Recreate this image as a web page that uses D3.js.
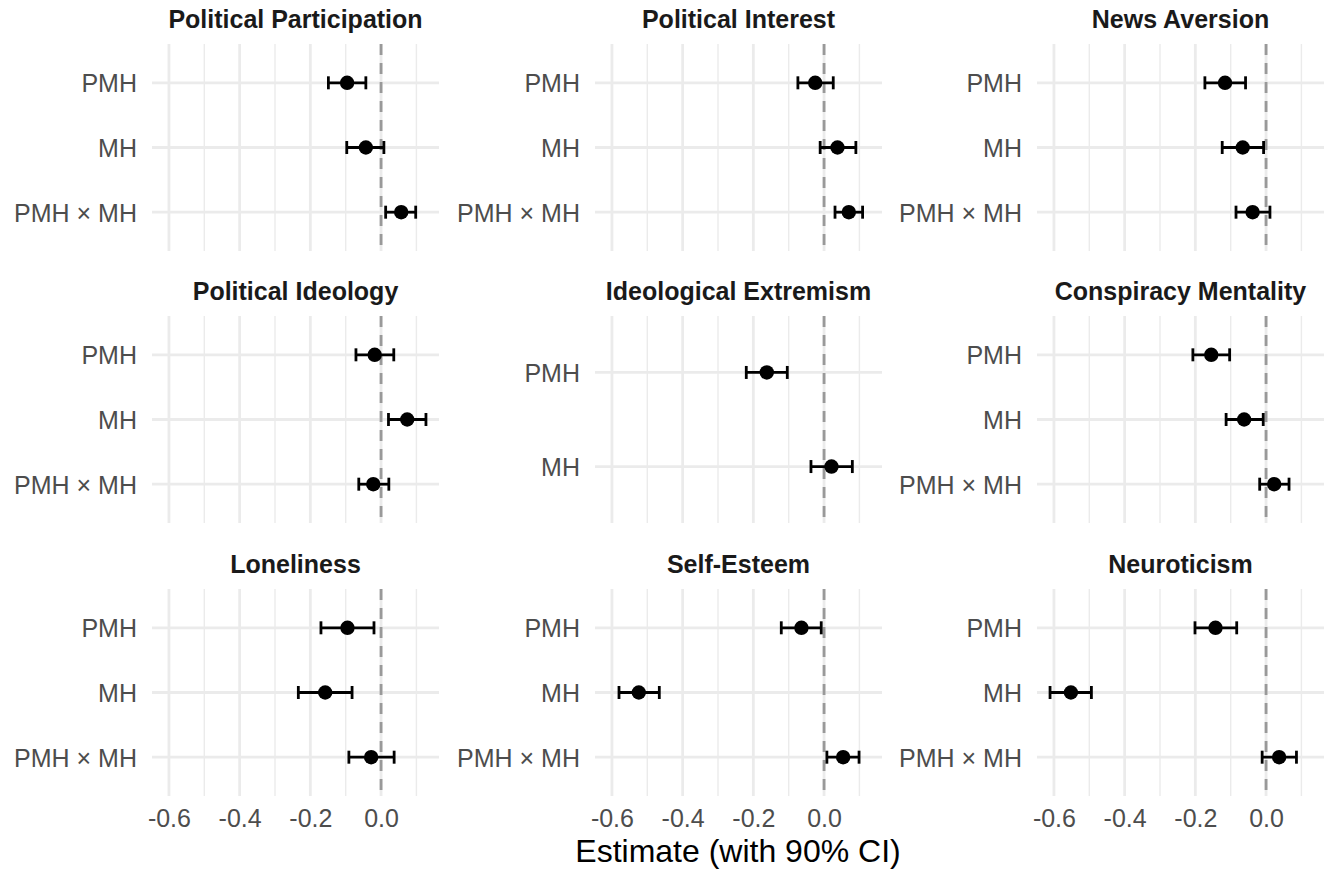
<!DOCTYPE html>
<html>
<head>
<meta charset="utf-8">
<script src="https://cdn.jsdelivr.net/npm/d3@7"></script>
<style>
  body { margin: 0; background: #fff; }
  svg { font-family: "Liberation Sans", Arial, Helvetica, sans-serif; }
</style>
</head>
<body>
<svg id="chart" width="1333" height="871"></svg>
<script>
// Facets (row by row) and model terms
var outcomes = ['Political Participation', 'Political Interest', 'News Aversion',
                'Political Ideology', 'Ideological Extremism', 'Conspiracy Mentality',
                'Loneliness', 'Self-Esteem', 'Neuroticism'];
var terms = ['PMH', 'MH', 'PMH × MH'];

// Point estimates per outcome, order of terms (null = term not in model)
var estimate = [
  [-0.096, -0.043,  0.057],
  [-0.025,  0.038,  0.070],
  [-0.116, -0.066, -0.038],
  [-0.018,  0.074, -0.022],
  [-0.162,  0.021,  null ],
  [-0.155, -0.062,  0.023],
  [-0.095, -0.158, -0.028],
  [-0.064, -0.524,  0.054],
  [-0.143, -0.552,  0.037]
];
// 90% CI bounds
var lower = [
  [-0.149, -0.097,  0.013],
  [-0.074, -0.011,  0.031],
  [-0.173, -0.124, -0.085],
  [-0.071,  0.021, -0.063],
  [-0.220, -0.037,  null ],
  [-0.207, -0.113, -0.018],
  [-0.170, -0.234, -0.091],
  [-0.121, -0.580,  0.008],
  [-0.201, -0.611, -0.011]
];
var upper = [
  [-0.043,  0.008,  0.098],
  [ 0.026,  0.090,  0.109],
  [-0.058, -0.007,  0.011],
  [ 0.036,  0.127,  0.022],
  [-0.104,  0.080,  null ],
  [-0.103, -0.008,  0.065],
  [-0.020, -0.082,  0.037],
  [-0.008, -0.466,  0.099],
  [-0.083, -0.494,  0.086]
];
var majorTicks = [-0.6, -0.4, -0.2, 0.0];
var minorTicks = [-0.5, -0.3, -0.1, 0.1];
var xTitle = 'Estimate (with 90% CI)';

// Layout
var panelW = 287, panelH = 207;
var panelLeft = [152, 595, 1037];
var panelTop = [44, 316, 589];

var svg = d3.select('#chart');

// Shared x scale (ggplot-like 5% expansion)
var allLo = d3.min(lower, function(r) { return d3.min(r); });
var allHi = d3.max(upper, function(r) { return d3.max(r); });
var pad = (allHi - allLo) * 0.05;
var xScale = d3.scaleLinear().domain([allLo - pad, allHi + pad]).range([0, panelW]);

outcomes.forEach(function(name, i) {
  var col = i % 3, row = Math.floor(i / 3);
  var g = svg.append('g')
      .attr('transform', 'translate(' + panelLeft[col] + ',' + panelTop[row] + ')');

  var rows = terms.map(function(t, j) {
    return {term: t, est: estimate[i][j], lo: lower[i][j], hi: upper[i][j]};
  }).filter(function(d) { return d.est !== null; });

  var yScale = d3.scalePoint()
      .domain(rows.map(function(d) { return d.term; }))
      .range([0, panelH])
      .padding(0.6);

  // Grid lines
  g.selectAll('.minor').data(minorTicks).enter().append('line')
      .attr('x1', function(d) { return xScale(d); })
      .attr('x2', function(d) { return xScale(d); })
      .attr('y1', 0).attr('y2', panelH)
      .attr('stroke', '#ebebeb').attr('stroke-width', 1.4);
  g.selectAll('.major').data(majorTicks).enter().append('line')
      .attr('x1', function(d) { return xScale(d); })
      .attr('x2', function(d) { return xScale(d); })
      .attr('y1', 0).attr('y2', panelH)
      .attr('stroke', '#ebebeb').attr('stroke-width', 2.8);
  g.selectAll('.hgrid').data(yScale.domain()).enter().append('line')
      .attr('x1', 0).attr('x2', panelW)
      .attr('y1', function(d) { return yScale(d); })
      .attr('y2', function(d) { return yScale(d); })
      .attr('stroke', '#ebebeb').attr('stroke-width', 2.8);

  // Reference line at zero
  g.append('line')
      .attr('x1', xScale(0)).attr('x2', xScale(0))
      .attr('y1', 0).attr('y2', panelH)
      .attr('stroke', '#999999').attr('stroke-width', 2.8)
      .attr('stroke-dasharray', '11,8');

  // Error bars
  var cap = 6.5;
  var bars = g.selectAll('.bar').data(rows).enter().append('g');
  bars.append('line')
      .attr('x1', function(d) { return xScale(d.lo); })
      .attr('x2', function(d) { return xScale(d.hi); })
      .attr('y1', function(d) { return yScale(d.term); })
      .attr('y2', function(d) { return yScale(d.term); });
  bars.append('line')
      .attr('x1', function(d) { return xScale(d.lo); })
      .attr('x2', function(d) { return xScale(d.lo); })
      .attr('y1', function(d) { return yScale(d.term) - cap; })
      .attr('y2', function(d) { return yScale(d.term) + cap; });
  bars.append('line')
      .attr('x1', function(d) { return xScale(d.hi); })
      .attr('x2', function(d) { return xScale(d.hi); })
      .attr('y1', function(d) { return yScale(d.term) - cap; })
      .attr('y2', function(d) { return yScale(d.term) + cap; });
  bars.selectAll('line').attr('stroke', '#000').attr('stroke-width', 2.8);
  bars.append('circle')
      .attr('cx', function(d) { return xScale(d.est); })
      .attr('cy', function(d) { return yScale(d.term); })
      .attr('r', 7.2)
      .attr('fill', '#000');

  // Y axis labels
  var yAxis = d3.axisLeft(yScale).tickSize(0).tickPadding(15);
  var ya = g.append('g').call(yAxis);
  ya.select('.domain').remove();
  ya.selectAll('text')
      .attr('fill', '#4d4d4d')
      .style('font-size', '25px')
      .attr('dy', '0.36em');

  // X axis only on bottom row
  if (row === 2) {
    var xAxis = d3.axisBottom(xScale).tickValues(majorTicks)
        .tickFormat(d3.format('.1f')).tickSize(0).tickPadding(13);
    var xa = g.append('g').attr('transform', 'translate(0,' + panelH + ')').call(xAxis);
    xa.select('.domain').remove();
    xa.selectAll('text')
        .attr('fill', '#4d4d4d')
        .style('font-size', '25px')
        .text(function(d) { return d3.format('.1f')(d).replace('−', '-'); });
  }

  // Strip title
  g.append('text')
      .attr('x', panelW / 2)
      .attr('y', -15.7)
      .attr('text-anchor', 'middle')
      .attr('fill', '#1a1a1a')
      .style('font-size', '25px')
      .style('font-weight', 'bold')
      .text(name);
});

// X axis title
svg.append('text')
    .attr('x', (panelLeft[0] + panelLeft[2] + panelW) / 2)
    .attr('y', 862)
    .attr('text-anchor', 'middle')
    .attr('fill', '#000')
    .style('font-size', '32px')
    .text(xTitle);
</script>
</body>
</html>
